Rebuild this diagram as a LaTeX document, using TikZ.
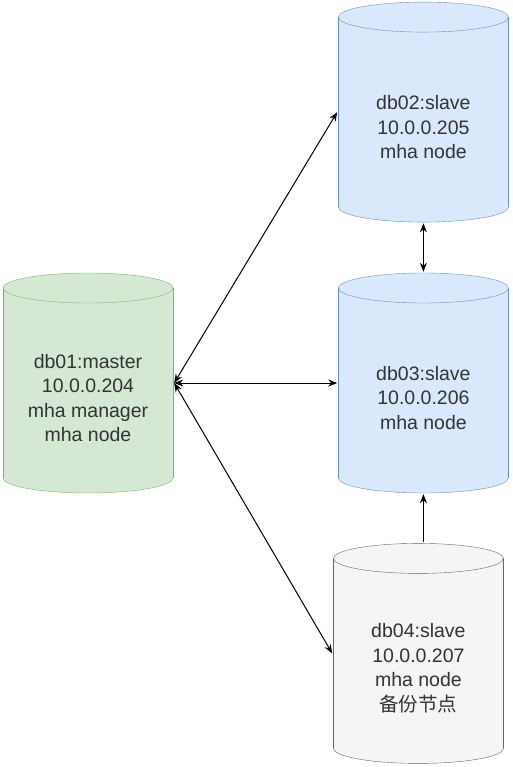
\documentclass[tikz,border=0pt]{standalone}
\usepackage{fontspec}
\setmainfont{Liberation Sans}
\newfontfamily\cjk{Noto Sans CJK SC}
\usetikzlibrary{positioning, arrows.meta, calc}
\definecolor{greenfill}{HTML}{D5E8D4}
\definecolor{greenline}{HTML}{82B366}
\definecolor{bluefill}{HTML}{DAE8FC}
\definecolor{blueline}{HTML}{6C8EBF}
\definecolor{grayfill}{HTML}{F5F5F5}
\definecolor{grayline}{HTML}{666666}
\definecolor{txt}{HTML}{333333}
\tikzset{
  cyl/.style={rectangle, minimum width=172pt, minimum height=222pt, inner sep=0pt,
    path picture={
      \filldraw[fill=#1fill, draw=#1line] ($(path picture bounding box.south)+(0,-16)$) ellipse [x radius=85pt, y radius=15pt];
      \fill[#1fill] ($(path picture bounding box.north west)+(1,16)$) rectangle ($(path picture bounding box.south east)+(-1,-16)$);
      \draw[#1line] ($(path picture bounding box.north west)+(1,16)$) -- ($(path picture bounding box.south west)+(1,-16)$);
      \draw[#1line] ($(path picture bounding box.north east)+(-1,16)$) -- ($(path picture bounding box.south east)+(-1,-16)$);
      \filldraw[fill=#1fill, draw=#1line] ($(path picture bounding box.north)+(0,16)$) ellipse [x radius=85pt, y radius=15pt];
    }},
  lbl/.style={text=txt, align=center, font=\fontsize{19.5pt}{24.5pt}\selectfont, yshift=-15pt},
  arrow/.style={line width=1pt, {Stealth[length=9pt, width=7pt]}-{Stealth[length=9pt, width=7pt]}},
  uparrow/.style={line width=1pt, -{Stealth[length=9pt, width=7pt]}}
}

\begin{document}
\begin{tikzpicture}[x=1pt, y=-1pt]
\useasboundingbox (0,0) rectangle (512,767);

\node (db01) [cyl=green] at (88,383) {};
\node (db01text) [lbl] at (db01.center) {db01:master\\10.0.0.204\\mha manager\\mha node};

\node (db03) [cyl=blue, right=163pt of db01] {};
\node (db03text) [lbl] at (db03.center) {db03:slave\\10.0.0.206\\mha node};

\node (db02) [cyl=blue, above=48.5pt of db03] {};
\node (db02text) [lbl] at (db02.center) {db02:slave\\10.0.0.205\\mha node};

\node (db04) [cyl=gray, below=48pt of db03, xshift=-5pt] {};
\node (db04text) [lbl] at (db04.center) {db04:slave\\10.0.0.207\\mha node\\{\cjk 备份节点}};

\draw [arrow] (db01.east) -- (db02.west);
\draw [arrow] (db01.east) -- (db03.west);
\draw [arrow] (db01.east) -- (db04.west);
\draw [arrow] (db02.south) -- (db03.north);
\draw [uparrow] (db03.south |- db04.north) -- (db03.south);
\end{tikzpicture}
\end{document}
